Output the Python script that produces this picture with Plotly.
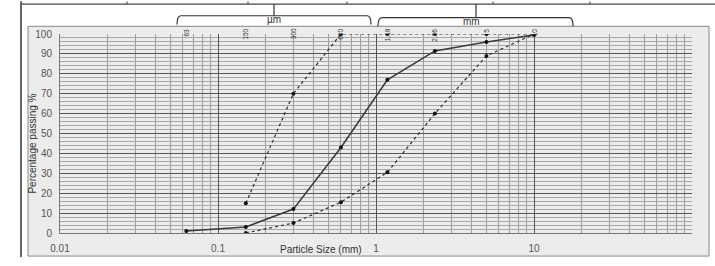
import numpy as np
import plotly.graph_objects as go

# Sieve sizes (mm)
sieve_A = [0.15, 0.3, 0.6, 1.18, 2.36, 5, 10]
pass_A = [15, 70, 100, 100, 100, 100, 100]

sieve_B = [0.063, 0.15, 0.3, 0.6, 1.18, 2.36, 5, 10]
pass_B = [1, 3, 12, 43, 77, 91.5, 96, 99.5]

sieve_C = [0.15, 0.3, 0.6, 1.18, 2.36, 5, 10]
pass_C = [0, 5, 15.5, 30.5, 60, 89, 100]

top_sizes = [0.063, 0.15, 0.3, 0.6, 1.18, 2.36, 5, 10]
top_labels = ["63", "150", "300", "600", "1.18", "2.36", "5", "10"]

x_ticks = [0.01, 0.1, 1, 10]
x_tick_text = ["0.01", "0.1", "1", "10"]

W, H = 715, 266
L, R, T, B = 60, 23, 34, 25
pw, ph = W - L - R, H - T - B

def px(xp):
    return (xp - L) / pw

def py(yp):
    return (H - B - yp) / ph

fig = go.Figure()
line_col = "#2a2a2a"
fig.add_trace(go.Scatter(x=sieve_A, y=pass_A, mode="lines+markers",
                         line=dict(color=line_col, width=1.2, dash="dot"),
                         marker=dict(size=4, color="#111"), showlegend=False))
fig.add_trace(go.Scatter(x=sieve_B, y=pass_B, mode="lines+markers",
                         line=dict(color="#3a3a3a", width=1.6),
                         marker=dict(size=4, color="#111"), showlegend=False))
fig.add_trace(go.Scatter(x=sieve_C, y=pass_C, mode="lines+markers",
                         line=dict(color=line_col, width=1.2, dash="dot"),
                         marker=dict(size=4, color="#111"), showlegend=False))

shapes = []
# page/table lines
shapes.append(dict(type="line", xref="paper", yref="paper", x0=px(21), x1=px(21), y0=py(0), y1=py(266),
                   line=dict(color="#333", width=1.5), layer="below"))
shapes.append(dict(type="line", xref="paper", yref="paper", x0=px(21), x1=px(715), y0=py(3), y1=py(3),
                   line=dict(color="#444", width=1.2), layer="below"))
for vx in [127, 248, 347, 493, 590]:
    shapes.append(dict(type="line", xref="paper", yref="paper", x0=px(vx), x1=px(vx), y0=py(0), y1=py(3),
                       line=dict(color="#444", width=1), layer="below"))
# chart area box
shapes.append(dict(type="rect", xref="paper", yref="paper", x0=px(28), x1=px(709), y0=py(26), y1=py(265),
                   line=dict(color="#888", width=1), fillcolor="#ececec", layer="below"))
# brackets
for (a, b, yh, stem) in [(177, 371, 15, 274), (378, 573, 17, 476)]:
    path = (f"M {px(a)},{py(yh + 9)} Q {px(a)},{py(yh)} {px(a + 4)},{py(yh)} "
            f"L {px(b - 4)},{py(yh)} Q {px(b)},{py(yh)} {px(b)},{py(yh + 9)}")
    shapes.append(dict(type="path", xref="paper", yref="paper", path=path,
                       line=dict(color="#333", width=1.2)))
    shapes.append(dict(type="line", xref="paper", yref="paper", x0=px(stem), x1=px(stem),
                       y0=py(3), y1=py(yh), line=dict(color="#333", width=1.2)))

annotations = []
annotations.append(dict(text="µm", xref="paper", yref="paper", x=px(274), y=py(11), showarrow=False,
                        font=dict(size=10, color="#333", family="Liberation Sans")))
annotations.append(dict(text="mm", xref="paper", yref="paper", x=px(482), y=py(13), showarrow=False,
                        font=dict(size=10, color="#333", family="Liberation Sans")))
for s, t in zip(top_sizes, top_labels):
    annotations.append(dict(text=t, xref="x", yref="paper", x=np.log10(s), y=py(26), showarrow=False,
                            textangle=-90, font=dict(size=6.5, color="#333", family="Liberation Sans")))
annotations.append(dict(text="Particle Size (mm)", xref="paper", yref="paper", x=px(321), y=py(258),
                        xanchor="center", yanchor="middle",
                        showarrow=False, font=dict(size=10, color="#333", family="Liberation Sans")))
annotations.append(dict(text="Percentage passing %", xref="paper", yref="paper", x=px(33), y=py(148),
                        xanchor="center", yanchor="middle",
                        showarrow=False, textangle=-90,
                        font=dict(size=10, color="#333", family="Liberation Sans")))

fig.update_layout(
    width=W, height=H, margin=dict(l=L, r=R, t=T, b=B),
    paper_bgcolor="#ffffff", plot_bgcolor="#f7f7f7",
    shapes=shapes, annotations=annotations,
    font=dict(family="Liberation Sans", size=10, color="#444"),
    xaxis=dict(type="log", range=[-2, 2], tickvals=x_ticks, ticktext=x_tick_text,
               showgrid=True, gridcolor="#555", gridwidth=1, zeroline=False,
               showline=True, linecolor="#777", ticks="", ticklen=0, ticklabelstandoff=6,
               tickfont=dict(size=10, color="#555"),
               minor=dict(showgrid=True, gridcolor="#9a9a9a", gridwidth=1, dtick="D1")),
    yaxis=dict(range=[0, 100], dtick=10, showgrid=True, gridcolor="#555", gridwidth=1,
               zeroline=False, showline=True, linecolor="#777", ticks="", ticklabelstandoff=5,
               tickfont=dict(size=10, color="#555"),
               minor=dict(showgrid=True, gridcolor="#a8a8a8", gridwidth=1, dtick=2)),
)

fig.write_html("out.html", config={"displayModeBar": False},
               post_script="document.body.style.margin='0';document.body.style.overflow='hidden';")
